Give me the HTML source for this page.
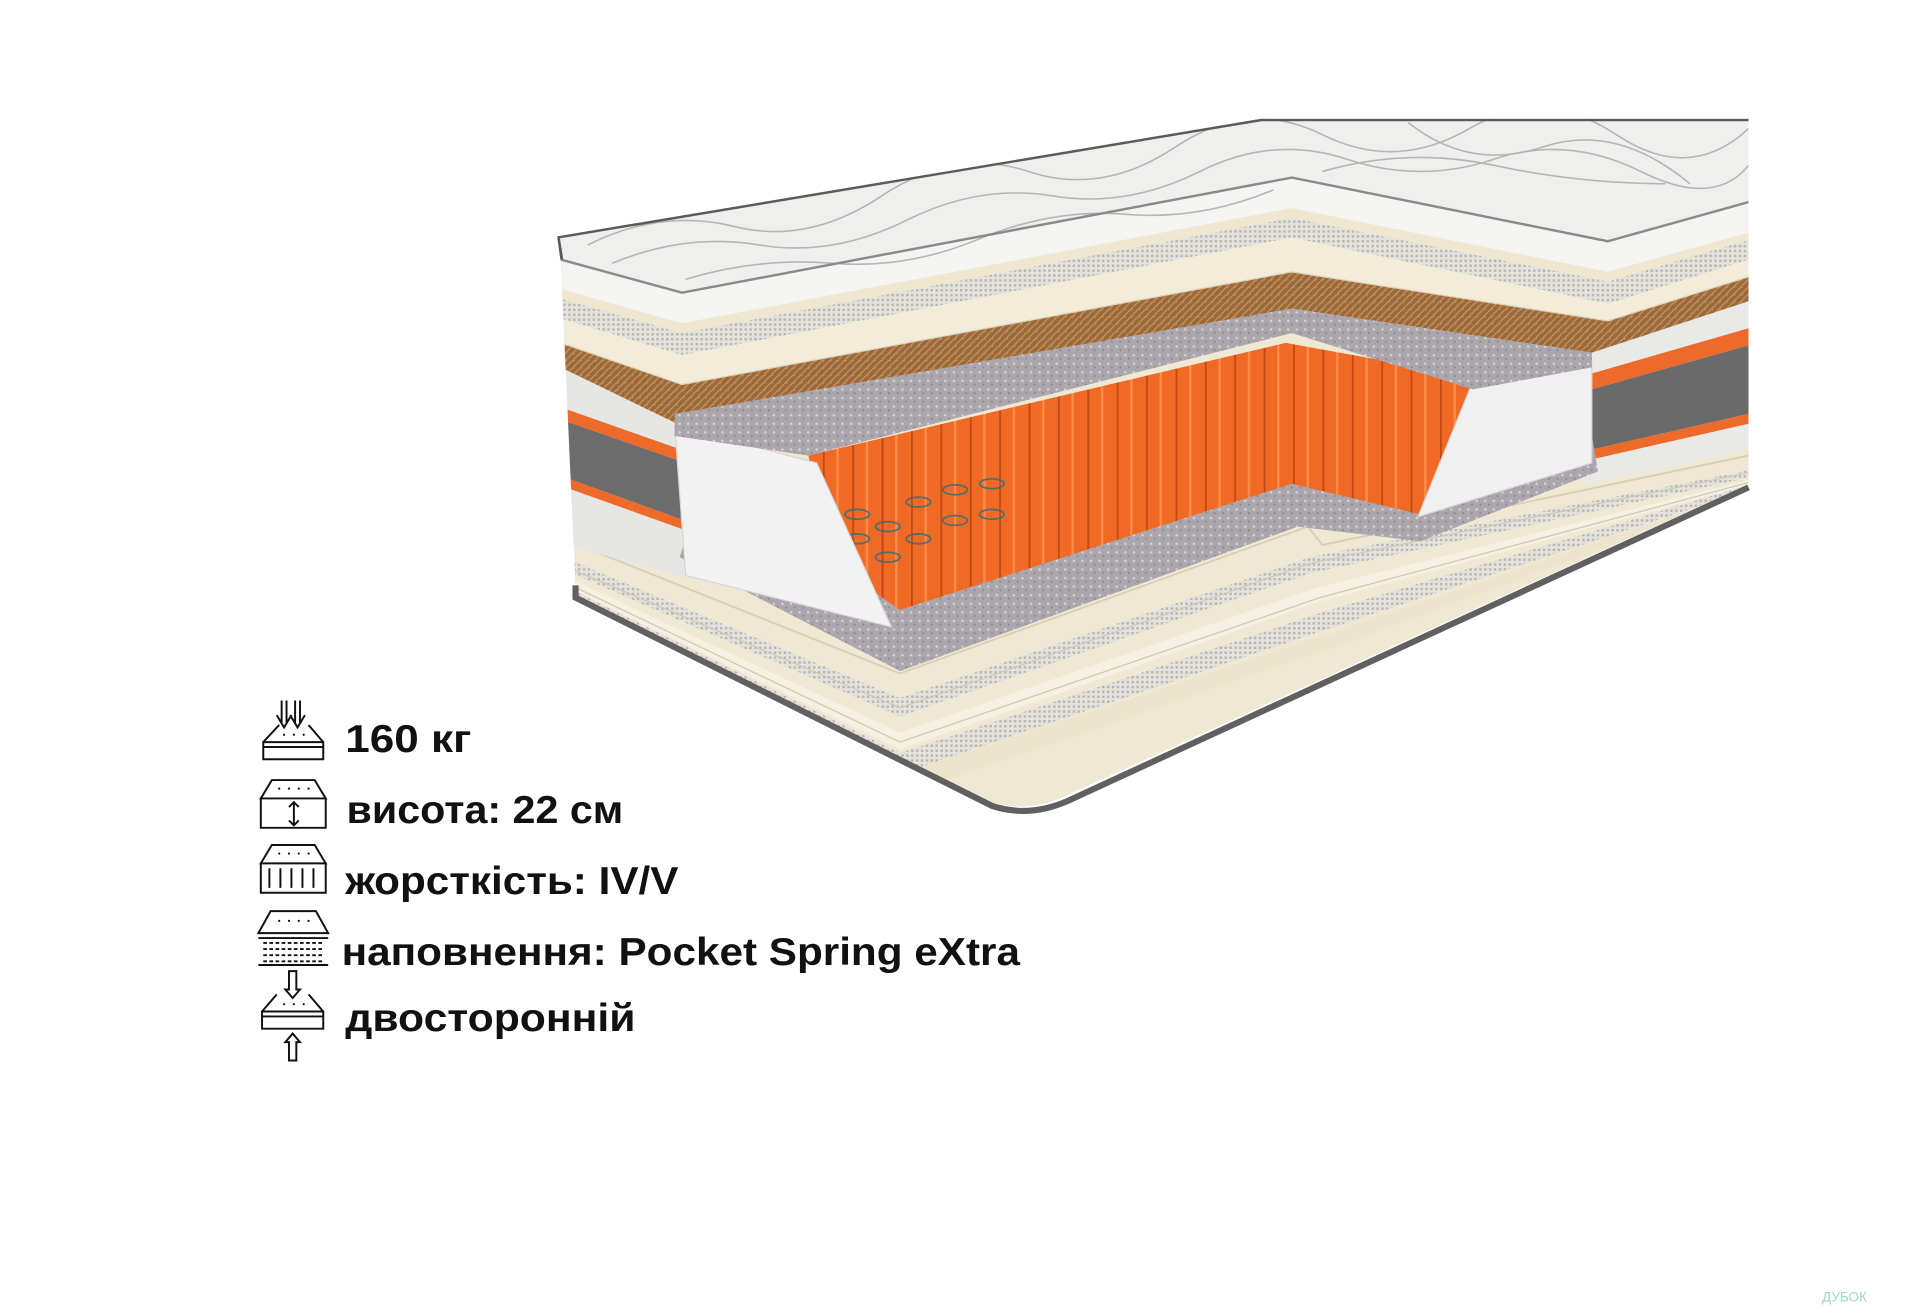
<!DOCTYPE html>
<html><head><meta charset="utf-8"><style>
html,body{margin:0;padding:0;background:#fff;}
svg{display:block;}
text{font-family:"Liberation Sans","DejaVu Sans",sans-serif;fill:#111;}
</style></head><body>
<svg width="1920" height="1314" viewBox="0 0 1568 1073" preserveAspectRatio="none" xmlns="http://www.w3.org/2000/svg">
<defs>
<pattern id="mesh" width="4" height="4" patternUnits="userSpaceOnUse"><rect width="4" height="4" fill="#e4e2dc"/><rect width="2" height="2" fill="#b9b7b2"/></pattern>
<pattern id="coco" width="6" height="6" patternUnits="userSpaceOnUse"><rect width="6" height="6" fill="#9b6a3c"/><path d="M0 6L6 0M-1 2L2 -1" stroke="#c8945c" stroke-width="1"/></pattern>
<pattern id="felt" width="7" height="7" patternUnits="userSpaceOnUse"><rect width="7" height="7" fill="#aca6ad"/><circle cx="2" cy="3" r="1" fill="#d8d2d8"/><circle cx="5" cy="6" r="0.8" fill="#8d8690"/></pattern>
<pattern id="pock" width="24" height="10" patternUnits="userSpaceOnUse"><rect width="24" height="10" fill="#f06a25"/><path d="M0 0V10" stroke="#c24a12" stroke-width="3"/><path d="M12 0V10" stroke="#ff8a4a" stroke-width="2"/></pattern>
<clipPath id="sil"><path d="M455 193 L1030 97 L1428 97 L1428 395 L870 650 Q840 664 810 655 L478 492 Q470 488 470 478 L458 215 Z"/></clipPath>
</defs>

<g clip-path="url(#sil)">
<rect x="440" y="90" width="1000" height="580" fill="#efe8d3"/>
<path d="M460 440 L735 550 L1068 430 L1080 445 L1428 372 L1428 400 L840 670 L460 490Z" fill="#efe8d2"/>
<path d="M460 455 L735 570 L1070 455 L1428 384 L1428 390 L1070 468 L735 585 L460 465Z" fill="url(#mesh)"/>
<path d="M460 470 L735 598 L1075 480 L1428 392 L1428 396 L1075 492 L735 612 L460 478Z" fill="#f5f0e2"/>
<path d="M460 478 L735 615 L1080 500 L1428 396 L1428 400 L1080 515 L735 632 L460 486Z" fill="url(#mesh)"/>
<path d="M735 632 L1085 518 L1428 400 L1428 404 L1085 530 L740 648Z" fill="#ece4cc"/>
<path d="M460 440 L735 550 L1068 430 L1080 445 L1428 372" fill="none" stroke="#d7cfb8" stroke-width="1.5"/>
<path d="M460 462 L735 578 L1070 460 L1428 386" fill="none" stroke="#cfc8b4" stroke-width="1"/>
<path d="M460 475 L735 606 L1078 488 L1428 394" fill="none" stroke="#cfc8b4" stroke-width="1"/>

<path d="M1300 284 L1428 241 L1428 367 L1294 396Z" fill="#e9e9e7"/>
<path d="M1300 305 L1428 268 L1428 282 L1300 318Z" fill="#ee6a2a"/>
<path d="M1300 318 L1428 282 L1428 338 L1296 368Z" fill="#6a6a6a"/>
<path d="M1296 368 L1428 338 L1428 346 L1296 376Z" fill="#ee6a2a"/>
<path d="M458 298 L551 332 L560 472 L467 446Z" fill="#e6e6e4"/>
<path d="M459 333 L553 366 L554 376 L459 343Z" fill="#ee6a2a"/>
<path d="M459 343 L554 376 L556 424 L462 390Z" fill="#6c6c6c"/>
<path d="M462 390 L556 424 L557 432 L462 398Z" fill="#ee6a2a"/>

<path d="M555 455 L735 548 L1060 430 L1160 442 L1305 385 L1300 355 L1160 400 L1055 390 L980 380 L700 470 L560 440Z" fill="url(#felt)"/>
<path d="M660 372 L1050 280 L1215 310 L1160 420 L1055 395 L735 498 L680 460Z" fill="url(#pock)"/>
<g fill="none" stroke="#2f6f7a" stroke-width="1.5" opacity="0.8">
<ellipse cx="700" cy="420" rx="10" ry="4"/><ellipse cx="700" cy="440" rx="10" ry="4"/><ellipse cx="725" cy="430" rx="10" ry="4"/><ellipse cx="725" cy="455" rx="10" ry="4"/><ellipse cx="750" cy="410" rx="10" ry="4"/><ellipse cx="750" cy="440" rx="10" ry="4"/><ellipse cx="780" cy="400" rx="10" ry="4"/><ellipse cx="780" cy="425" rx="10" ry="4"/><ellipse cx="810" cy="395" rx="10" ry="4"/><ellipse cx="810" cy="420" rx="10" ry="4"/>
</g>
<path d="M551 348 L667 378 L728 512 L560 470Z" fill="#f2f2f2" stroke="#d5d5d5"/>
<path d="M1203 311 L1300 297 L1300 378 L1158 422Z" fill="#f0f0f0" stroke="#d5d5d5"/>

<path d="M458 210 L557 239 L1055 145 L1313 197 L1428 165 L1428 190 L1313 222 L1055 170 L557 264 L458 236Z" fill="#f4f4f2"/>
<path d="M458 236 L557 264 L1055 170 L1313 222 L1428 190 L1428 196 L1313 230 L1055 178 L557 272 L458 244Z" fill="#efe7cf"/>
<path d="M458 244 L557 272 L1055 178 L1313 230 L1428 196 L1428 212 L1313 248 L1055 194 L557 290 L458 260Z" fill="url(#mesh)"/>
<path d="M458 260 L557 290 L1055 194 L1313 248 L1428 212 L1428 226 L1313 262 L1055 222 L557 314 L458 280Z" fill="#f3ecd8"/>
<path d="M458 280 L557 314 L1055 222 L1313 262 L1428 226 L1428 246 L1300 288 L1055 252 L557 348 L458 300Z" fill="url(#coco)"/>
<path d="M551 338 L1055 252 L1300 288 L1300 300 L1203 318 L1055 272 L660 372 L551 356Z" fill="url(#felt)"/>
<path d="M458 280 L557 314 L1055 222 L1313 262 L1428 226" fill="none" stroke="#ddd4bd" stroke-width="1"/>

<path d="M455 193 L1030 97 L1428 97 L1428 165 L1313 197 L1055 145 L557 239 L458 212Z" fill="#efefee"/>
<g fill="none" stroke="#b5b5b5" stroke-width="1.3">
<path d="M480 200 Q540 170 600 185 T720 160 T840 140 T960 120 T1080 110 T1200 105 T1320 110 T1428 105"/>
<path d="M500 215 Q560 190 620 200 T740 180 T860 160 T980 140 T1100 130 T1220 130 T1340 140 T1428 135"/>
<path d="M1080 140 Q1150 120 1220 135 T1360 150"/>
<path d="M560 228 Q620 210 680 215 T800 195 T920 175 T1040 155"/>
<path d="M1150 100 Q1200 140 1260 120 T1380 150"/>
</g>
<path d="M455 193 L1030 97 L1428 97" fill="none" stroke="#5a5a5a" stroke-width="4"/>
<path d="M458 212 L557 239 L1055 145 L1313 197 L1428 165" fill="none" stroke="#8a8a8a" stroke-width="2"/>
<path d="M455 193 L458 212" stroke="#5a5a5a" stroke-width="4"/>
</g>
<path d="M470 478 L470 488 L810 658 Q840 668 872 654 L1428 398" fill="none" stroke="#606060" stroke-width="5"/>

<g fill="none" stroke="#111" stroke-width="1.6">
<path d="M230 572V590M234 572V590M226 584L232 594L238 584M241 572V590M245 572V590M237 584L243 594L249 584"/>
<path d="M215 606 L228 592 M252 592 L264 606 M215 606H264V620H215Z M215 610H264"/>
<path d="M222 637H257L266 652H213Z M213 652H266V676H213Z"/>
<path d="M240 655V674M236 659L240 655L244 659M236 670L240 674L244 670"/>
<path d="M222 690H257L266 705H213Z M213 705H266V729H213Z"/>
<path d="M220 709V725M229 709V725M238 709V725M247 709V725M256 709V725"/>
<path d="M221 744H258L268 762H211Z M211 766H268M211 788H268"/>
<path d="M215 770H264M215 775H264M215 780H264M215 785H264" stroke-dasharray="3 2"/>
<path d="M236 793V808H233L239 815L245 808H242V793Z"/>
<path d="M214 826 L226 812 M252 812 L264 826 M214 826H264V840H214Z M214 830H264"/>
<path d="M236 866V851H233L239 844L245 851H242V866Z"/>
</g>
<g fill="#111">
<circle cx="232" cy="600" r="0.9"/><circle cx="240" cy="600" r="0.9"/><circle cx="248" cy="600" r="0.9"/>
<circle cx="228" cy="644" r="0.9"/><circle cx="236" cy="644" r="0.9"/><circle cx="244" cy="644" r="0.9"/><circle cx="252" cy="644" r="0.9"/>
<circle cx="228" cy="697" r="0.9"/><circle cx="236" cy="697" r="0.9"/><circle cx="244" cy="697" r="0.9"/><circle cx="252" cy="697" r="0.9"/>
<circle cx="228" cy="752" r="0.9"/><circle cx="236" cy="752" r="0.9"/><circle cx="244" cy="752" r="0.9"/><circle cx="252" cy="752" r="0.9"/>
<circle cx="232" cy="820" r="0.9"/><circle cx="240" cy="820" r="0.9"/><circle cx="248" cy="820" r="0.9"/>
</g>

<g font-weight="bold">
<text x="282" y="614" font-size="32" textLength="103" lengthAdjust="spacingAndGlyphs">160 кг</text>
<text x="283" y="672" font-size="32" textLength="226" lengthAdjust="spacingAndGlyphs">висота: 22 см</text>
<text x="282" y="730" font-size="32" textLength="272" lengthAdjust="spacingAndGlyphs">жорсткість: IV/V</text>
<text x="279" y="788" font-size="32" textLength="554" lengthAdjust="spacingAndGlyphs">наповнення: Pocket Spring eXtra</text>
<text x="282" y="842" font-size="32" textLength="237" lengthAdjust="spacingAndGlyphs">двосторонній</text>
</g>
<text x="1488" y="1063" font-size="11" style="fill:#9fd3cf">ДУБОК</text>
</svg>
</body></html>
